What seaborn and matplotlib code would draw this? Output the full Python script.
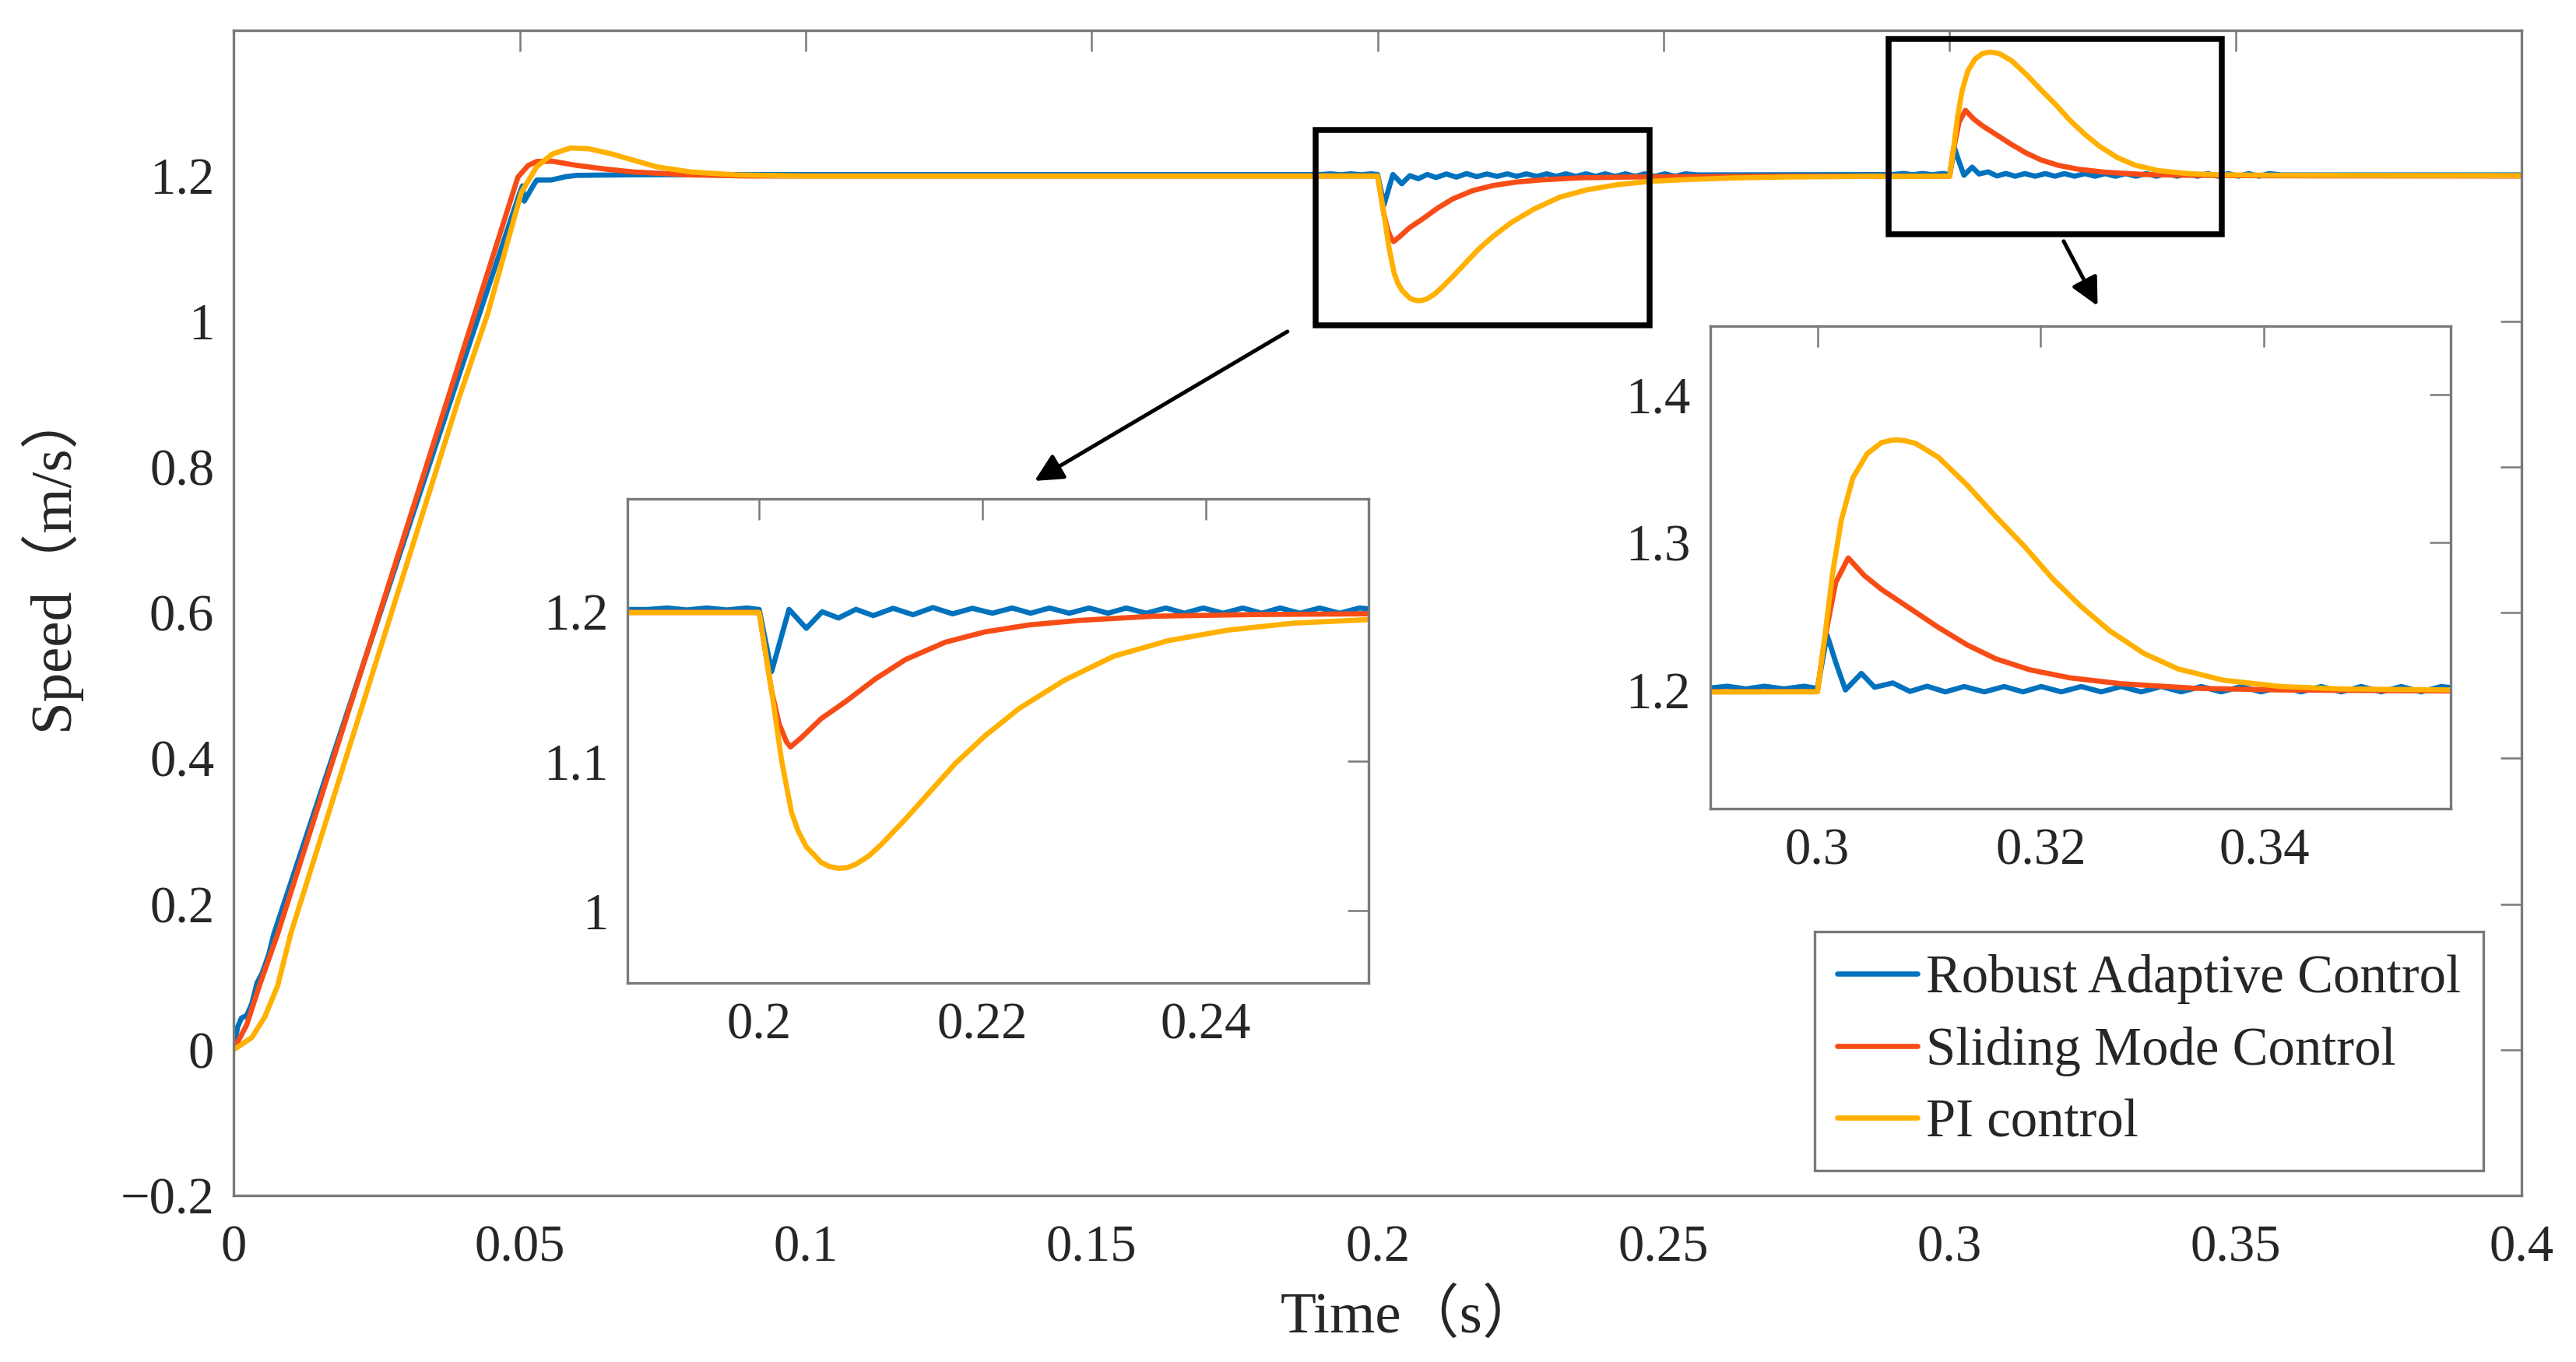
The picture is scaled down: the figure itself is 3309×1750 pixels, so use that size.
import numpy as np
import pandas as pd
import matplotlib
matplotlib.use("Agg")
import matplotlib.pyplot as plt
from matplotlib.patches import Rectangle, FancyArrowPatch
import seaborn as sns

# ---- values ----
rac_t = [0, 0.00068, 0.00136, 0.00227, 0.00317, 0.00408, 0.005, 0.00612, 0.00703, 0.0394,
         0.0500, 0.0505, 0.0508, 0.0525, 0.053, 0.0555, 0.058, 0.060, 0.070, 0.090,
         0.190, 0.1918, 0.1935, 0.1953, 0.1971, 0.1989,
         0.2000, 0.20111, 0.20267, 0.20422, 0.20564, 0.2071, 0.20867, 0.21022, 0.2120, 0.21378,
         0.21556, 0.21733, 0.2191,
         0.22089, 0.22267, 0.22431, 0.2260, 0.22778, 0.22956, 0.23124, 0.23289, 0.23467, 0.23644,
         0.23809, 0.23978, 0.24156, 0.24333, 0.24502, 0.24667, 0.24844, 0.25022, 0.2520, 0.25378,
         0.2560, 0.2900, 0.29192, 0.2936, 0.29524, 0.2970, 0.29882,
         0.3000, 0.30087, 0.30164, 0.30251, 0.30394, 0.30512, 0.30675,
         0.30829, 0.30982, 0.31146, 0.31315, 0.31494, 0.31673, 0.31841, 0.32005, 0.32184, 0.32363,
         0.32542, 0.32721, 0.3290, 0.33079, 0.33258, 0.33437, 0.33616, 0.33795, 0.33974, 0.34153,
         0.34332, 0.34512, 0.3469, 0.3487, 0.35049, 0.35228, 0.35407, 0.35586,
         0.3580, 0.4000]
rac_v = [0, 0.031, 0.0435, 0.047, 0.063, 0.0915, 0.1055, 0.1303, 0.159, 0.926,
         1.176, 1.186, 1.165, 1.188, 1.194, 1.194, 1.1985, 1.2004, 1.2012, 1.2015,
         1.2015, 1.2025, 1.2012, 1.2025, 1.2012, 1.2025,
         1.2015, 1.160, 1.2016, 1.1889, 1.2000, 1.1958, 1.2016, 1.1974, 1.2023, 1.1980,
         1.2028, 1.1986, 1.2023,
         1.1990, 1.2025, 1.1990, 1.2025, 1.1990, 1.2025, 1.1990, 1.2025, 1.1990, 1.2025,
         1.1990, 1.2025, 1.1990, 1.2025, 1.1990, 1.2025, 1.1990, 1.2025, 1.1990, 1.2025,
         1.2010, 1.2015, 1.2030, 1.2012, 1.2030, 1.2012, 1.2030,
         1.2015, 1.2376, 1.2192, 1.2005, 1.2117, 1.2023, 1.2052,
         1.1995, 1.2030, 1.1992, 1.2028, 1.1992, 1.2028, 1.1992, 1.2028, 1.1992, 1.2028,
         1.1992, 1.2028, 1.1992, 1.2028, 1.1992, 1.2028, 1.1992, 1.2028, 1.1992, 1.2028,
         1.1992, 1.2028, 1.1992, 1.2028, 1.1992, 1.2028, 1.1992, 1.2028,
         1.2010, 1.2010]

smc_t = [0, 0.00227, 0.0045, 0.0077, 0.0395, 0.0497, 0.0515, 0.053, 0.0558, 0.0598,
         0.065, 0.070, 0.080, 0.090, 0.200, 0.20111, 0.20178, 0.20244, 0.2028, 0.20378,
         0.20556, 0.20778, 0.21044, 0.21311, 0.21667, 0.22022, 0.22422, 0.22867, 0.23533, 0.24422,
         0.25444, 0.270, 0.300, 0.30061, 0.30164, 0.30276, 0.30419, 0.30573, 0.30829, 0.31084,
         0.3134, 0.31596, 0.31903, 0.3226, 0.32721, 0.33386, 0.34153, 0.35672, 0.400]
smc_v = [0, 0.034, 0.088, 0.159, 0.945, 1.198, 1.214, 1.2195, 1.2197, 1.2143,
         1.209, 1.205, 1.201, 1.1995, 1.1995, 1.147, 1.125, 1.113, 1.1095, 1.1158,
         1.1285, 1.1401, 1.1552, 1.168, 1.1796, 1.1865, 1.1912, 1.1942, 1.197, 1.1981,
         1.1986, 1.1993, 1.1993, 1.233, 1.2732, 1.2897, 1.2779, 1.2685, 1.2556, 1.2427,
         1.231, 1.2216, 1.2141, 1.2087, 1.2047, 1.2016, 1.2005, 1.1998, 1.1995]

pi_t = [0, 0.00317, 0.00544, 0.0077, 0.00997, 0.0394, 0.0444, 0.0503, 0.053, 0.0558,
        0.0589, 0.062, 0.066, 0.070, 0.074, 0.080, 0.088, 0.100, 0.200, 0.20111,
        0.2020, 0.20289, 0.2035, 0.20422, 0.20556, 0.2063, 0.20711, 0.2079, 0.20867, 0.2098,
        0.21089, 0.21311, 0.21533, 0.21756, 0.22022, 0.22333, 0.22733, 0.23178, 0.23667, 0.2420,
        0.24778, 0.25444, 0.262, 0.272, 0.285, 0.300, 0.30061, 0.30138, 0.30215, 0.30317,
        0.30445, 0.30573, 0.3066, 0.30716, 0.3078, 0.3088, 0.31084, 0.3134, 0.31596, 0.31852,
        0.32107, 0.32363, 0.32619, 0.32926, 0.33233, 0.33642, 0.34153, 0.34665, 0.35672, 0.400]
pi_v = [0, 0.0167, 0.045, 0.088, 0.159, 0.895, 1.01, 1.177, 1.2125, 1.230,
        1.238, 1.237, 1.230, 1.221, 1.212, 1.205, 1.201, 1.1995, 1.1995, 1.1471,
        1.1007, 1.0659, 1.053, 1.0427, 1.0322, 1.0295, 1.0283, 1.0288, 1.0311, 1.0365,
        1.0439, 1.0613, 1.0798, 1.0984, 1.1169, 1.1355, 1.1541, 1.1703, 1.1807, 1.1877,
        1.1923, 1.1947, 1.1968, 1.1982, 1.199, 1.1993, 1.2333, 1.2803, 1.3155, 1.3437,
        1.3601, 1.3676, 1.3692, 1.3695, 1.3690, 1.3671, 1.3577, 1.339, 1.3178, 1.2977,
        1.2756, 1.2568, 1.2404, 1.2251, 1.2146, 1.207, 1.2028, 1.2012, 1.2005, 1.2]

series_names = ["Robust Adaptive Control", "Sliding Mode Control", "PI control"]
series_colors = ["#0072BD", "#F84C17", "#FFB000"]

x_ticks = [0, 0.05, 0.1, 0.15, 0.2, 0.25, 0.3, 0.35, 0.4]
x_ticklabels = ["0", "0.05", "0.1", "0.15", "0.2", "0.25", "0.3", "0.35", "0.4"]
y_ticks = [-0.2, 0, 0.2, 0.4, 0.6, 0.8, 1.0, 1.2]
y_ticklabels = ["\u22120.2", "0", "0.2", "0.4", "0.6", "0.8", "1", "1.2"]

zoom1_xticks = [0.2, 0.22, 0.24]
zoom1_xticklabels = ["0.2", "0.22", "0.24"]
zoom1_yticks = [1.0, 1.1, 1.2]
zoom1_yticklabels = ["1", "1.1", "1.2"]
zoom2_xticks = [0.3, 0.32, 0.34]
zoom2_xticklabels = ["0.3", "0.32", "0.34"]
zoom2_yticks = [1.2, 1.3, 1.4]
zoom2_yticklabels = ["1.2", "1.3", "1.4"]

df = pd.concat([
    pd.DataFrame({"t": rac_t, "v": rac_v, "series": series_names[0]}),
    pd.DataFrame({"t": smc_t, "v": smc_v, "series": series_names[1]}),
    pd.DataFrame({"t": pi_t, "v": pi_v, "series": series_names[2]}),
], ignore_index=True)

sns.set_style("white")
plt.rcParams["font.family"] = ["Liberation Serif", "Noto Sans CJK SC"]
plt.rcParams["axes.unicode_minus"] = True

GREY = "#7a7a7a"
LW = 1.6
palette = dict(zip(series_names, series_colors))


def draw_lines(ax, legend=False):
    sns.lineplot(data=df, x="t", y="v", hue="series", hue_order=series_names,
                 palette=palette, estimator=None, sort=False, linewidth=LW,
                 ax=ax, legend=legend)


def style_axes(ax, xt, xtl, yt, ytl, xlim, ylim, size=16):
    ax.set_xlim(*xlim)
    ax.set_ylim(*ylim)
    ax.set_xticks(xt)
    ax.set_xticklabels(xtl)
    ax.set_yticks(yt)
    ax.set_yticklabels(ytl)
    ax.tick_params(direction="in", length=6.5, width=0.6, color=GREY,
                   top=True, right=True, labelsize=size, pad=6)
    for s in ax.spines.values():
        s.set_color(GREY)
        s.set_linewidth(0.8)
    ax.set_xlabel("")
    ax.set_ylabel("")


fig = plt.figure(figsize=(3309 / 300, 1750 / 300), dpi=300)
ax = fig.add_axes([0.0907, 0.1223, 0.8882, 0.8557])
draw_lines(ax, legend=True)
style_axes(ax, x_ticks, x_ticklabels, y_ticks, y_ticklabels, (0, 0.4), (-0.2, 1.4))
ax.tick_params(axis="x", pad=9)

ax.set_xlabel("Time（s）", fontsize=18, va="center")
ax.xaxis.set_label_coords(0.5144, -0.104)
ax.set_ylabel("Speed（m/s）", fontsize=18, va="center")
ax.yaxis.set_label_coords(-0.0806, 0.547)

leg = ax.legend(loc="upper left", bbox_to_anchor=(0.7045, 0.316), bbox_transform=fig.transFigure,
                fontsize=16.5, frameon=True, fancybox=False, framealpha=1,
                edgecolor=GREY, handlelength=1.5, handletextpad=0.15,
                labelspacing=0.42, borderpad=0.42, borderaxespad=0)
leg.get_frame().set_linewidth(0.8)
for line in leg.get_lines():
    line.set_linewidth(LW)

# zoom boxes on the main axes
ax.add_patch(Rectangle((0.1891, 0.994), 0.2476 - 0.1891, 1.263 - 0.994,
                       fill=False, edgecolor="black", linewidth=1.8, zorder=5))
ax.add_patch(Rectangle((0.2893, 1.120), 0.3476 - 0.2893, 1.388 - 1.120,
                       fill=False, edgecolor="black", linewidth=1.8, zorder=5))

# insets
ax1 = fig.add_axes([0.2436, 0.2783, 0.2877, 0.3554])
draw_lines(ax1)
style_axes(ax1, zoom1_xticks, zoom1_xticklabels, zoom1_yticks, zoom1_yticklabels,
           (0.1882, 0.2546), (0.9516, 1.2755))

ax2 = fig.add_axes([0.6639, 0.4063, 0.2874, 0.3543])
draw_lines(ax2)
style_axes(ax2, zoom2_xticks, zoom2_xticklabels, zoom2_yticks, zoom2_yticklabels,
           (0.2904, 0.3567), (1.1203, 1.4464))

# arrows from the boxes to the insets
arrow = dict(arrowstyle="-|>", color="black", lw=1.2, mutation_scale=18, shrinkA=0, shrinkB=0)
fig.add_artist(FancyArrowPatch((0.4998, 0.7566), (0.4016, 0.6469),
                               transform=fig.transFigure, **arrow))
fig.add_artist(FancyArrowPatch((0.8011, 0.8229), (0.8143, 0.7754),
                               transform=fig.transFigure, **arrow))

fig.savefig("out.png", dpi=300)
plt.close(fig)
